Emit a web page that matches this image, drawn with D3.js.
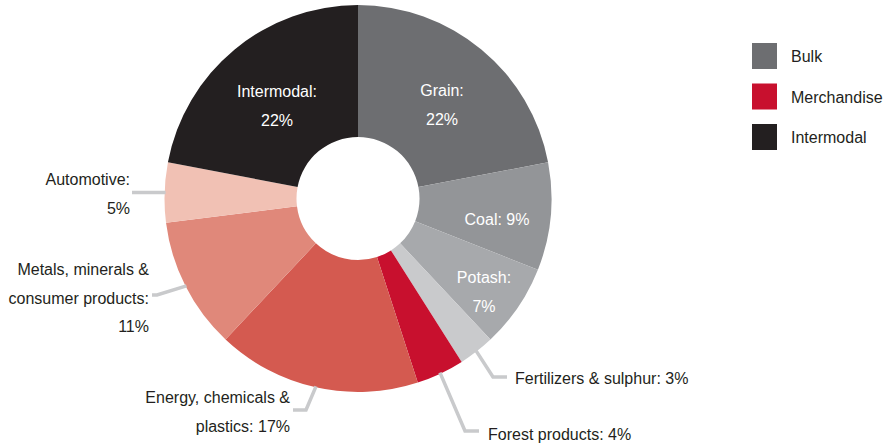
<!DOCTYPE html>
<html><head><meta charset="utf-8">
<script src="https://cdn.jsdelivr.net/npm/d3@7"></script>
<style>body{margin:0;background:#fff}svg{display:block}text{font-family:"Liberation Sans",Arial,sans-serif}</style>
</head><body><svg id="c" width="887" height="448"></svg>
<script>
const categories = ["Grain","Coal","Potash","Fertilizers & sulphur","Forest products","Energy, chemicals & plastics","Metals, minerals & consumer products","Automotive","Intermodal"];
const values = [22,9,7,3,4,17,11,5,22];
const groups = ["Bulk","Bulk","Bulk","Bulk","Merchandise","Merchandise","Merchandise","Merchandise","Intermodal"];
const sliceColors = ["#6d6e71","#939598","#a7a9ac","#c9cacc","#c8102e","#d45a50","#e0887a","#f1c1b4","#231f20"];
const legendLabels = ["Bulk","Merchandise","Intermodal"];
const legendColors = ["#6d6e71","#c8102e","#231f20"];

// label layout (text lines, position, anchor)
const labelLayout = {
  "Grain": {lines:["Grain:","22%"], x:442, y:96, anchor:"middle", fill:"#fff"},
  "Intermodal": {lines:["Intermodal:","22%"], x:277, y:97, anchor:"middle", fill:"#fff"},
  "Coal": {lines:["Coal: 9%"], x:497, y:225, anchor:"middle", fill:"#fff"},
  "Potash": {lines:["Potash:","7%"], x:484, y:283, anchor:"middle", fill:"#fff"},
  "Fertilizers & sulphur": {lines:["Fertilizers & sulphur: 3%"], x:515, y:384, anchor:"start", fill:"#231f20", elbow:[493,377], end:[507,377]},
  "Forest products": {lines:["Forest products: 4%"], x:488, y:440, anchor:"start", fill:"#231f20", elbow:[465,431], end:[479,431]},
  "Energy, chemicals & plastics": {lines:["Energy, chemicals &","plastics: 17%"], x:290, y:403, anchor:"end", fill:"#231f20", elbow:[306,410], end:[293,410]},
  "Metals, minerals & consumer products": {lines:["Metals, minerals &","consumer products:","11%"], x:149, y:275, anchor:"end", fill:"#231f20", elbow:[157,295], end:[152,295]},
  "Automotive": {lines:["Automotive:","5%"], x:130, y:185, anchor:"end", fill:"#231f20", elbow:null, end:[132,null]}
};

const svg = d3.select("#c");
const cx = 358, cy = 198.5, R = 193.5, r0 = 61.5;
const g = svg.append("g").attr("transform",`translate(${cx},${cy})`);
const data = categories.map((c,i)=>({name:c,value:values[i],color:sliceColors[i]}));
const pie = d3.pie().value(d=>d.value).sort(null);
const arcs = pie(data);
const arc = d3.arc().innerRadius(r0).outerRadius(R);
g.selectAll("path.s").data(arcs).join("path").attr("class","s")
  .attr("d",arc).attr("fill",d=>d.data.color);

// leaders
arcs.forEach(a=>{
  const L = labelLayout[a.data.name];
  if(!L || L.end===undefined) return;
  const m = (a.startAngle+a.endAngle)/2;
  const sx = cx + (R-1)*Math.sin(m), sy = cy - (R-1)*Math.cos(m);
  const pts = [[sx,sy]];
  if(L.elbow) pts.push(L.elbow);
  pts.push([L.end[0], L.end[1]===null ? sy : L.end[1]]);
  svg.append("path").attr("d",d3.line()(pts)).attr("fill","none")
    .attr("stroke","#c9cacc").attr("stroke-width",3.5).attr("stroke-linejoin","miter");
});

// labels
arcs.forEach(a=>{
  const L = labelLayout[a.data.name];
  const t = svg.append("text").attr("x",L.x).attr("y",L.y).attr("text-anchor",L.anchor)
    .attr("fill",L.fill).attr("font-size",16);
  L.lines.forEach((ln,i)=>t.append("tspan").attr("x",L.x).attr("dy",i?28.5:0).text(ln));
});

// legend
const lg = svg.append("g").attr("transform","translate(752,43)");
legendLabels.forEach((l,i)=>{
  lg.append("rect").attr("x",0).attr("y",i*40.5).attr("width",25).attr("height",26).attr("fill",legendColors[i]);
  lg.append("text").attr("x",39).attr("y",i*40.5+19).attr("font-size",16).attr("fill","#231f20").text(l);
});
</script></body></html>
